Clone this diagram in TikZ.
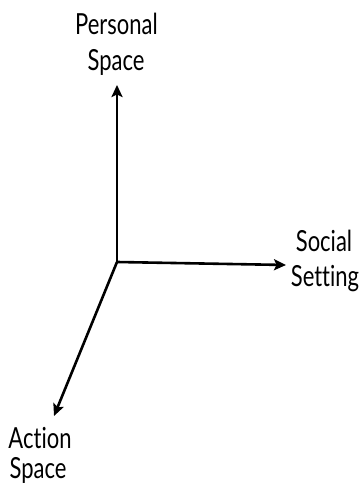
\documentclass[tikz,border=0pt]{standalone}
\usepackage{fontspec}
\setmainfont[Ligatures=NoCommon]{Lato}
\usetikzlibrary{arrows.meta}
\tikzset{
  axis/.style={line width=2.6pt,-{Stealth[length=12pt,width=11pt,inset=2.5pt]}},
  lbl/.style={anchor=base,font=\fontsize{22}{26}\selectfont,inner sep=0pt,yscale=1.32,transform shape}
}
\begin{document}
\begin{tikzpicture}[x=1pt,y=1pt]
\useasboundingbox (0,0) rectangle (359,485);
\coordinate (O) at (117,223);
\coordinate (up) at (117,400);
\coordinate (right) at (286,220);
\coordinate (dl) at (54,69);
\draw[axis] (O) -- (up);
\draw[axis] (O) -- (right);
\draw[axis] (O) -- (dl);
\node[lbl] (ps1) at (116.5,450) {Personal};
\node[lbl] (ps2) at (116,414) {Space};
\node[lbl] (ss1) at (324,233) {Social};
\node[lbl] (ss2) at (325,198) {Setting};
\node[lbl] (as1) at (40,37) {Action};
\node[lbl] (as2) at (38,7) {Space};
\end{tikzpicture}
\end{document}
